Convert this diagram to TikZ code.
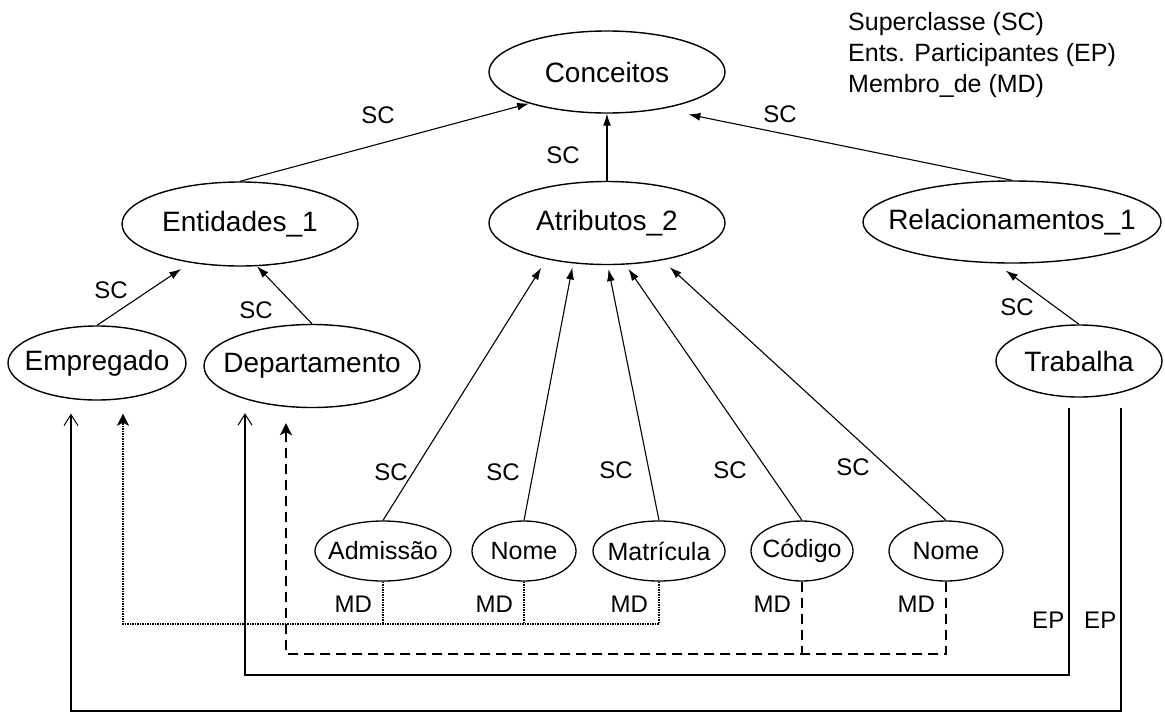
\documentclass[tikz,border=0pt]{standalone}
\usepackage{fontspec}
\setmainfont{Liberation Sans}
\usetikzlibrary{shapes.geometric,arrows.meta}
% keep node text out of the ellipse size computation
\newcommand\nodetext[1]{\makebox[0pt]{#1}}
\begin{document}
\begin{tikzpicture}[x=1pt,y=-1pt,
  concept/.style={draw, ellipse, line width=1.4pt, inner sep=0pt,
    font=\fontsize{28}{32}\selectfont},
  attr/.style={draw, ellipse, line width=1.3pt, inner sep=0pt,
    minimum height=60pt, font=\fontsize{25}{29}\selectfont},
  lbl/.style={inner sep=0pt, font=\fontsize{24}{28}\selectfont},
  eplbl/.style={lbl, anchor=east, inner xsep=4pt},
  mdlbl/.style={lbl, anchor=east, inner xsep=10pt},
  legend/.style={inner sep=0pt, anchor=base west, font=\fontsize{25}{29}\selectfont},
  scarrow/.style={line width=1.1pt, -{Latex[length=12pt,width=8pt]}},
  eparrow/.style={line width=1.5pt, -{Straight Barb[length=11pt,width=14pt,line width=1pt]}},
  mdline/.style={line width=2.2pt, dash pattern=on 1.4pt off 1.1pt},
  mddash/.style={line width=2.2pt, dash pattern=on 10pt off 6pt},
  mdtip/.style={-{Stealth[length=12pt,width=12pt,inset=3pt]}},
]
\useasboundingbox (0,0) rectangle (1165,715);

% legend
\node[legend] (lg1) at (848,30) {Superclasse (SC)};
\node[legend] (lg2) at (848,61) {Ents. Participantes (EP)};
\node[legend] (lg3) at (848,92) {Membro\_de (MD)};

% concept hierarchy
\node[concept, minimum width=236pt, minimum height=82pt] (con) at (607,72) {\nodetext{Conceitos}};
\node[concept, minimum width=236pt, minimum height=84pt] (ent) at (240,224) {\nodetext{Entidades\_1}};
\node[concept, minimum width=236pt, minimum height=83pt] (atr) at (607,223) {\nodetext{Atributos\_2}};
\node[concept, minimum width=298pt, minimum height=82pt] (rel) at (1012,222) {\nodetext{Relacionamentos\_1}};
\node[concept, minimum width=178pt, minimum height=74pt] (emp) at (97,363) {\nodetext{Empregado}};
\node[concept, minimum width=216pt, minimum height=83pt] (dep) at (312,366) {\nodetext{Departamento}};
\node[concept, minimum width=166pt, minimum height=72pt] (tra) at (1079,361) {\nodetext{Trabalha}};

% attributes
\node[attr, minimum width=136pt] (adm) at (383,551) {\nodetext{Admissão}};
\node[attr, minimum width=104pt] (nm1) at (524,551) {\nodetext{Nome}};
\node[attr, minimum width=132pt] (mat) at (659,551) {\nodetext{Matrícula}};
\node[attr, minimum width=102pt] (cod) at (802,551) {\nodetext{Código}};
\node[attr, minimum width=114pt] (nm2) at (946,551) {\nodetext{Nome}};

% superclass links
\draw[scarrow] (ent.north) -- (con.202);
\draw[scarrow] (atr.north) -- (con.south);
\draw[scarrow, shorten >=27pt] (rel.north) -- (con.326);
\draw[scarrow, shorten >=11pt] (emp.north) -- (ent.218);
\draw[scarrow] (dep.north) -- (ent.292);
\draw[scarrow, shorten >=12pt] (tra.north) -- (rel.249);
\draw[scarrow, shorten >=10pt] (adm.north) -- (atr.211);
\draw[scarrow, shorten >=4pt] (nm1.north) -- (atr.230);
\draw[scarrow, shorten >=4pt] (mat.north) -- (atr.271);
\draw[scarrow, shorten >=5pt] (cod.north) -- (atr.294);
\draw[scarrow, shorten >=10pt] (nm2.north) -- (atr.326);

\node[lbl] (s1) at (378,115) {SC};
\node[lbl] (s2) at (563,155) {SC};
\node[lbl] (s3) at (780,114) {SC};
\node[lbl] (s4) at (111,290) {SC};
\node[lbl] (s5) at (256,310) {SC};
\node[lbl] (s6) at (1017,307) {SC};
\node[lbl] (s7) at (391,472) {SC};
\node[lbl] (s8) at (503,472) {SC};
\node[lbl] (s9) at (616,470) {SC};
\node[lbl] (s10) at (730,470) {SC};
\node[lbl] (s11) at (853,467) {SC};

% ends of the lower connectors
\coordinate (epA) at ([xshift=-10pt,yshift=-10pt]tra.south);
\coordinate (epB) at ([xshift=42pt,yshift=-10pt]tra.south);
\coordinate (empS) at ([xshift=-26pt,yshift=-13pt]emp.south);
\coordinate (empD) at ([xshift=26pt,yshift=-13pt]emp.south);
\coordinate (depS) at ([xshift=-67pt,yshift=-5pt]dep.south);
\coordinate (depD) at ([xshift=-26pt,yshift=-15pt]dep.south);
% heights of the horizontal runs
\coordinate (lvD) at (0,624);
\coordinate (lvE) at (0,654);
\coordinate (lvS) at (0,675);
\coordinate (lvB) at (0,711);

% participating entities
\draw[eparrow] (epA) -- node[eplbl, pos=0.795]{EP} (epA |- lvS) -| (depS);
\draw[eparrow] (epB) -- node[eplbl, pos=0.70]{EP} (epB |- lvB) -| (empS);

% member of (dotted: Empregado)
\draw[mdline, mdtip] (mat.south) -- node[mdlbl, pos=0.53]{MD} (mat.south |- lvD) -| (empD);
\draw[mdline] (adm.south) -- node[mdlbl, pos=0.53]{MD} (adm.south |- lvD);
\draw[mdline] (nm1.south) -- node[mdlbl, pos=0.53]{MD} (nm1.south |- lvD);

% member of (dashed: Departamento)
\draw[mddash, mdtip] (nm2.south) -- node[mdlbl, pos=0.31]{MD} (nm2.south |- lvE) -| (depD);
\draw[mddash] (cod.south) -- node[mdlbl, pos=0.31]{MD} (cod.south |- lvE);
\end{tikzpicture}
\end{document}
